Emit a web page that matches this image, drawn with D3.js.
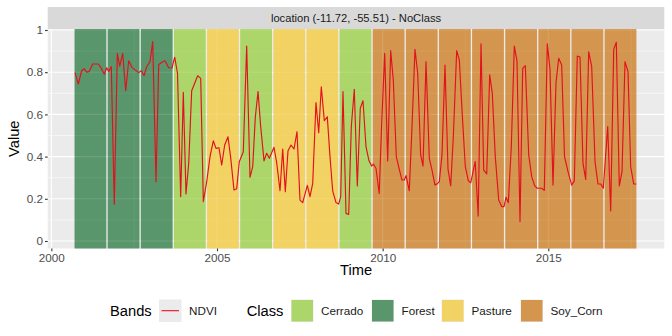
<!DOCTYPE html>
<html>
<head>
<meta charset="utf-8">
<script src="https://cdn.jsdelivr.net/npm/d3@7"></script>
<style>
  html, body { margin: 0; padding: 0; background: #fff; }
  svg { display: block; font-family: "Liberation Sans", Arial, Helvetica, sans-serif; }
</style>
</head>
<body>
<svg id="chart" width="672" height="336"></svg>
<script>
// ---------- DATA ----------
const stripTitle = "location (-11.72, -55.51) - NoClass";

// class bands (decimal years)
const bandStart = [2000.70, 2001.70, 2002.70, 2003.70, 2004.70, 2005.70, 2006.70, 2007.70, 2008.70,
                   2009.70, 2010.70, 2011.70, 2012.70, 2013.70, 2014.70, 2015.70, 2016.70];
const bandEnd   = [2001.66, 2002.66, 2003.66, 2004.66, 2005.66, 2006.66, 2007.66, 2008.66, 2009.66,
                   2010.66, 2011.66, 2012.66, 2013.66, 2014.66, 2015.66, 2016.66, 2017.66];
const bandClass = ["Forest", "Forest", "Forest", "Cerrado", "Pasture", "Cerrado", "Pasture", "Pasture", "Cerrado",
                   "Soy_Corn", "Soy_Corn", "Soy_Corn", "Soy_Corn", "Soy_Corn", "Soy_Corn", "Soy_Corn", "Soy_Corn"];

const classNames  = ["Cerrado", "Forest", "Pasture", "Soy_Corn"];
const classColors = ["#ADD66A", "#5A966B", "#F2D262", "#D4964F"];

// NDVI series (decimal year, value)
const ndviTime = [
  2000.714, 2000.813, 2000.916, 2000.986, 2001.067, 2001.145, 2001.248, 2001.417, 2001.490, 2001.598,
  2001.671, 2001.731, 2001.810, 2001.900, 2001.991, 2002.063, 2002.154, 2002.244, 2002.335, 2002.434,
  2002.534, 2002.637, 2002.715, 2002.797, 2002.878, 2002.978, 2003.059, 2003.159, 2003.240, 2003.340,
  2003.430, 2003.542, 2003.642, 2003.723, 2003.808, 2003.904, 2003.983, 2004.064, 2004.146, 2004.236,
  2004.417, 2004.508, 2004.587, 2004.689, 2004.789, 2004.888, 2004.970, 2005.060, 2005.142, 2005.232,
  2005.332, 2005.413, 2005.513, 2005.595, 2005.673, 2005.794, 2005.896, 2005.996, 2006.078, 2006.156,
  2006.238, 2006.319, 2006.419, 2006.500, 2006.579, 2006.720, 2006.802, 2006.902, 2006.983, 2007.062,
  2007.143, 2007.234, 2007.324, 2007.415, 2007.505, 2007.587, 2007.726, 2007.807, 2007.889, 2007.988,
  2008.070, 2008.148, 2008.239, 2008.329, 2008.411, 2008.492, 2008.592, 2008.673, 2008.734, 2008.803,
  2008.894, 2008.975, 2009.054, 2009.144, 2009.235, 2009.325, 2009.407, 2009.497, 2009.588, 2009.669,
  2009.718, 2009.799, 2009.896, 2009.971, 2010.062, 2010.152, 2010.243, 2010.321, 2010.412, 2010.502,
  2010.584, 2010.653, 2010.705, 2010.804, 2010.886, 2010.976, 2011.058, 2011.148, 2011.218, 2011.309,
  2011.408, 2011.490, 2011.580, 2011.662, 2011.710, 2011.791, 2011.882, 2011.973, 2012.054, 2012.133,
  2012.235, 2012.314, 2012.404, 2012.495, 2012.585, 2012.658, 2012.718, 2012.794, 2012.884, 2012.969,
  2013.050, 2013.141, 2013.231, 2013.310, 2013.400, 2013.503, 2013.594, 2013.663, 2013.723, 2013.793,
  2013.883, 2013.974, 2014.055, 2014.146, 2014.227, 2014.306, 2014.409, 2014.499, 2014.590, 2014.668,
  2014.801, 2014.879, 2014.970, 2015.051, 2015.142, 2015.232, 2015.314, 2015.404, 2015.489, 2015.601,
  2015.706, 2015.785, 2015.875, 2015.957, 2016.047, 2016.129, 2016.219, 2016.310, 2016.410, 2016.500,
  2016.582, 2016.660, 2016.793, 2016.883, 2016.974, 2017.053, 2017.143, 2017.225, 2017.315, 2017.406,
  2017.487, 2017.578, 2017.656
];
const ndviValue = [
  0.798, 0.744, 0.807, 0.817, 0.800, 0.804, 0.839, 0.839, 0.823, 0.790,
  0.821, 0.804, 0.826, 0.174, 0.889, 0.829, 0.889, 0.712, 0.854, 0.823,
  0.810, 0.798, 0.807, 0.783, 0.826, 0.850, 0.945, 0.281, 0.837, 0.847,
  0.854, 0.821, 0.820, 0.871, 0.795, 0.210, 0.705, 0.223, 0.368, 0.712,
  0.783, 0.771, 0.186, 0.281, 0.400, 0.475, 0.439, 0.442, 0.360, 0.455,
  0.494, 0.395, 0.242, 0.248, 0.376, 0.423, 0.924, 0.302, 0.352, 0.586,
  0.708, 0.542, 0.380, 0.416, 0.392, 0.444, 0.370, 0.238, 0.436, 0.234,
  0.428, 0.455, 0.436, 0.518, 0.194, 0.182, 0.264, 0.210, 0.273, 0.656,
  0.513, 0.731, 0.570, 0.589, 0.400, 0.238, 0.182, 0.175, 0.210, 0.708,
  0.131, 0.126, 0.542, 0.719, 0.261, 0.629, 0.665, 0.447, 0.380, 0.355,
  0.365, 0.345, 0.226, 0.558, 0.889, 0.379, 0.902, 0.763, 0.400, 0.340,
  0.289, 0.289, 0.310, 0.238, 0.542, 0.908, 0.795, 0.408, 0.355, 0.850,
  0.392, 0.336, 0.265, 0.273, 0.281, 0.408, 0.834, 0.340, 0.261, 0.494,
  0.902, 0.858, 0.597, 0.352, 0.286, 0.276, 0.321, 0.376, 0.118, 0.934,
  0.336, 0.318, 0.787, 0.700, 0.400, 0.194, 0.163, 0.163, 0.207, 0.182,
  0.447, 0.924, 0.854, 0.092, 0.818, 0.831, 0.408, 0.305, 0.261, 0.250,
  0.250, 0.240, 0.934, 0.814, 0.265, 0.750, 0.866, 0.834, 0.400, 0.325,
  0.265, 0.285, 0.877, 0.872, 0.368, 0.292, 0.897, 0.826, 0.376, 0.270,
  0.270, 0.250, 0.542, 0.142, 0.908, 0.942, 0.261, 0.329, 0.850, 0.802,
  0.352, 0.270, 0.270
];

const xTicks = [2000, 2005, 2010, 2015];
const xMinor = [2002.5, 2007.5, 2012.5, 2017.5];
const yTicks = [0, 0.2, 0.4, 0.6, 0.8, 1];
const yMinor = [0.1, 0.3, 0.5, 0.7, 0.9];

// ---------- LAYOUT ----------
const svg = d3.select("#chart");
const panel = { left: 47.7, right: 664.3, top: 29, bottom: 248.5 };
const strip = { top: 7, bottom: 29 };

const x = d3.scaleLinear().domain([2000, 2015]).range([51.35, 548.3]);
const y = d3.scaleLinear().domain([0, 1]).range([241, 30]);
const color = d3.scaleOrdinal().domain(classNames).range(classColors);

// strip
svg.append("rect").attr("x", panel.left).attr("y", strip.top)
  .attr("width", panel.right - panel.left).attr("height", strip.bottom - strip.top)
  .attr("fill", "#D9D9D9");
svg.append("text").attr("x", (panel.left + panel.right) / 2).attr("y", (strip.top + strip.bottom) / 2)
  .attr("dy", "0.35em").attr("text-anchor", "middle").attr("font-size", 11.2).attr("fill", "#1A1A1A")
  .text(stripTitle);

// panel bg
svg.append("rect").attr("x", panel.left).attr("y", panel.top)
  .attr("width", panel.right - panel.left).attr("height", panel.bottom - panel.top)
  .attr("fill", "#EBEBEB");

function drawGrid(g, op) {
  g.selectAll(".ymin").data(yMinor).enter().append("line")
    .attr("x1", panel.left).attr("x2", panel.right).attr("y1", d => y(d)).attr("y2", d => y(d))
    .attr("stroke", "#fff").attr("stroke-opacity", op).attr("stroke-width", 0.55);
  g.selectAll(".xmin").data(xMinor).enter().append("line")
    .attr("y1", panel.top).attr("y2", panel.bottom).attr("x1", d => x(d)).attr("x2", d => x(d))
    .attr("stroke", "#fff").attr("stroke-opacity", op).attr("stroke-width", 0.55);
  g.selectAll(".ymaj").data(yTicks).enter().append("line")
    .attr("x1", panel.left).attr("x2", panel.right).attr("y1", d => y(d)).attr("y2", d => y(d))
    .attr("stroke", "#fff").attr("stroke-opacity", op).attr("stroke-width", 1.1);
  g.selectAll(".xmaj").data(xTicks).enter().append("line")
    .attr("y1", panel.top).attr("y2", panel.bottom).attr("x1", d => x(d)).attr("x2", d => x(d))
    .attr("stroke", "#fff").attr("stroke-opacity", op).attr("stroke-width", 1.1);
}
drawGrid(svg.append("g"), 1);

// bands
const bands = bandStart.map((s, i) => ({ s, e: bandEnd[i], c: bandClass[i] }));
svg.append("g").selectAll("rect").data(bands).enter().append("rect")
  .attr("x", d => x(d.s)).attr("width", d => x(d.e) - x(d.s))
  .attr("y", panel.top).attr("height", panel.bottom - panel.top)
  .attr("fill", d => color(d.c));

// faint grid through translucent bands
const gridOver = svg.append("g");
drawGrid(gridOver, 0.12);

// line
const series = ndviTime.map((t, i) => ({ t, v: ndviValue[i] }));
svg.append("path").datum(series)
  .attr("d", d3.line().x(d => x(d.t)).y(d => y(d.v)))
  .attr("fill", "none").attr("stroke", "#E3101E").attr("stroke-width", 1.15)
  .attr("stroke-linejoin", "round");

// axes
const xAxis = svg.append("g").attr("transform", `translate(0,${panel.bottom})`)
  .call(d3.axisBottom(x).tickValues(xTicks).tickFormat(d3.format("d")).tickSize(2.7).tickPadding(2));
const yAxis = svg.append("g").attr("transform", `translate(${panel.left},0)`)
  .call(d3.axisLeft(y).tickValues(yTicks).tickFormat(d => d === 0 || d === 1 ? String(d) : d3.format(".1f")(d)).tickSize(2.7).tickPadding(2));
[xAxis, yAxis].forEach(a => {
  a.select(".domain").remove();
  a.selectAll(".tick line").attr("stroke", "#333").attr("stroke-width", 1.1);
  a.selectAll(".tick text").attr("fill", "#4D4D4D").attr("font-size", 11.7)
    .attr("font-family", "'Liberation Sans', Arial, sans-serif");
});

// axis titles
svg.append("text").attr("x", (panel.left + panel.right) / 2).attr("y", 275)
  .attr("text-anchor", "middle").attr("font-size", 14.7).attr("fill", "#000").text("Time");
svg.append("text").attr("transform", `translate(19,${(panel.top + panel.bottom) / 2}) rotate(-90)`)
  .attr("text-anchor", "middle").attr("font-size", 14.7).attr("fill", "#000").text("Value");

// legend
const lg = svg.append("g");
const legY = 310.5;
lg.append("text").attr("x", 110).attr("y", legY).attr("dy", "0.35em").attr("font-size", 14.7).text("Bands");
lg.append("rect").attr("x", 159).attr("y", legY - 11).attr("width", 22.5).attr("height", 22.5).attr("fill", "#EBEBEB");
lg.append("line").attr("x1", 161.5).attr("x2", 179).attr("y1", legY + 0.2).attr("y2", legY + 0.2)
  .attr("stroke", "#E3101E").attr("stroke-width", 1.1);
lg.append("text").attr("x", 189).attr("y", legY).attr("dy", "0.35em").attr("font-size", 11.7).attr("fill", "#1A1A1A").text("NDVI");

lg.append("text").attr("x", 246.7).attr("y", legY).attr("dy", "0.35em").attr("font-size", 14.7).text("Class");
const keyX = [291, 371.5, 441.5, 520.5];
classNames.forEach((c, i) => {
  lg.append("rect").attr("x", keyX[i]).attr("y", legY - 11).attr("width", 22.5).attr("height", 22.5)
    .attr("fill", "#EBEBEB");
  lg.append("rect").attr("x", keyX[i] + 0.5).attr("y", legY - 10.5).attr("width", 21.5).attr("height", 21.5)
    .attr("fill", color(c));
  lg.append("text").attr("x", keyX[i] + 30).attr("y", legY).attr("dy", "0.35em")
    .attr("font-size", 11.7).attr("fill", "#1A1A1A").text(c);
});
</script>
</body>
</html>
